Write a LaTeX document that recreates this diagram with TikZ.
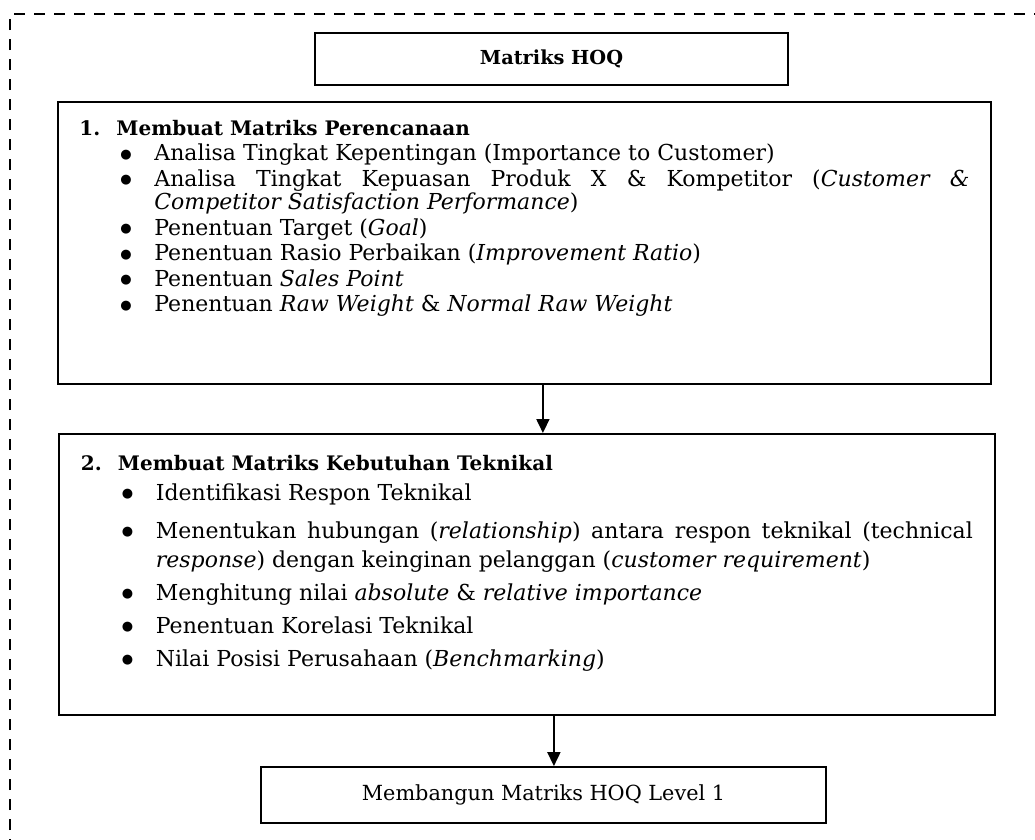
\documentclass[tikz,border=0pt]{standalone}
\usepackage{fontspec}
\setmainfont{DejaVu Serif}
\newfontfamily\hqsym{DejaVu Sans}
\usetikzlibrary{arrows.meta,positioning}
\newcommand{\hqhead}[2]{\noindent{\fontsize{20}{0}\selectfont\bfseries\makebox[37pt][l]{#1}#2}\par}
\newcommand{\hqitem}[1]{\hangindent=75pt\hangafter=1\noindent\hspace*{41pt}\makebox[34pt][l]{\raisebox{2.2pt}{\hqsym\fontsize{13}{0}\selectfont ●}}#1\par}

\begin{document}
\begin{tikzpicture}[x=1pt, y=-1pt,
  box/.style={draw, line width=1.8pt, inner ysep=0pt, font={\fontsize{22}{24}\selectfont}},
  stepbox/.style={box, anchor=north west},
  arr/.style={-{Triangle[length=14pt,width=13pt]}, line width=1.8pt},
  frame/.style={line width=2.6pt, dash pattern=on 11pt off 9pt}
]
\useasboundingbox (0,0) rectangle (1035,839);
\draw[frame] (10,850) -- (10,14) -- (1045,14);
\node[box, minimum width=473pt, minimum height=52pt, font={\fontsize{19.3}{24}\selectfont}] (title) at (551.5,59)
  {\textbf{Matriks HOQ}};
\node[stepbox, inner xsep=21.5pt] (plan) at (57,101)
  {\parbox[c][282pt][t]{890pt}{\baselineskip=23.5pt\parskip=2pt
   \vspace*{16pt}
   \hqhead{1.}{Membuat Matriks Perencanaan}
   \hqitem{Analisa Tingkat Kepentingan (Importance to Customer)}
   \hqitem{Analisa Tingkat Kepuasan Produk X \& Kompetitor (\textit{Customer \&}\linebreak
     \textit{Competitor Satisfaction Performance})}
   \hqitem{Penentuan Target (\textit{Goal})}
   \hqitem{Penentuan Rasio Perbaikan (\textit{Improvement Ratio})}
   \hqitem{Penentuan \textit{Sales Point}}
   \hqitem{Penentuan \textit{Raw Weight} \& \textit{Normal Raw Weight}}}};
\node[stepbox, inner xsep=22pt] (tech) at (58,433)
  {\parbox[c][281pt][t]{892pt}{\baselineskip=29pt\parskip=4pt
   \vspace*{17pt}
   \hqhead{2.}{Membuat Matriks Kebutuhan Teknikal}
   \vspace{-3pt}
   \hqitem{Identifikasi Respon Teknikal}
   \vspace{5pt}
   \hqitem{Menentukan hubungan (\textit{relationship}) antara respon teknikal (technical\linebreak
     \textit{response}) dengan keinginan pelanggan (\textit{customer requirement})}
   \hqitem{Menghitung nilai \textit{absolute} \& \textit{relative importance}}
   \hqitem{Penentuan Korelasi Teknikal}
   \hqitem{Nilai Posisi Perusahaan (\textit{Benchmarking})}}};
\node[box, minimum width=565pt, minimum height=56pt, font={\fontsize{20.8}{24}\selectfont}] (hoq) at (543.5,795)
  {Membangun Matriks HOQ Level 1};
\draw[arr] ([xshift=18.5pt]plan.south) -- ([xshift=18.5pt]plan.south |- tech.north);
\draw[arr] ([xshift=27pt]tech.south) -- ([xshift=27pt]tech.south |- hoq.north);
\end{tikzpicture}
\end{document}
